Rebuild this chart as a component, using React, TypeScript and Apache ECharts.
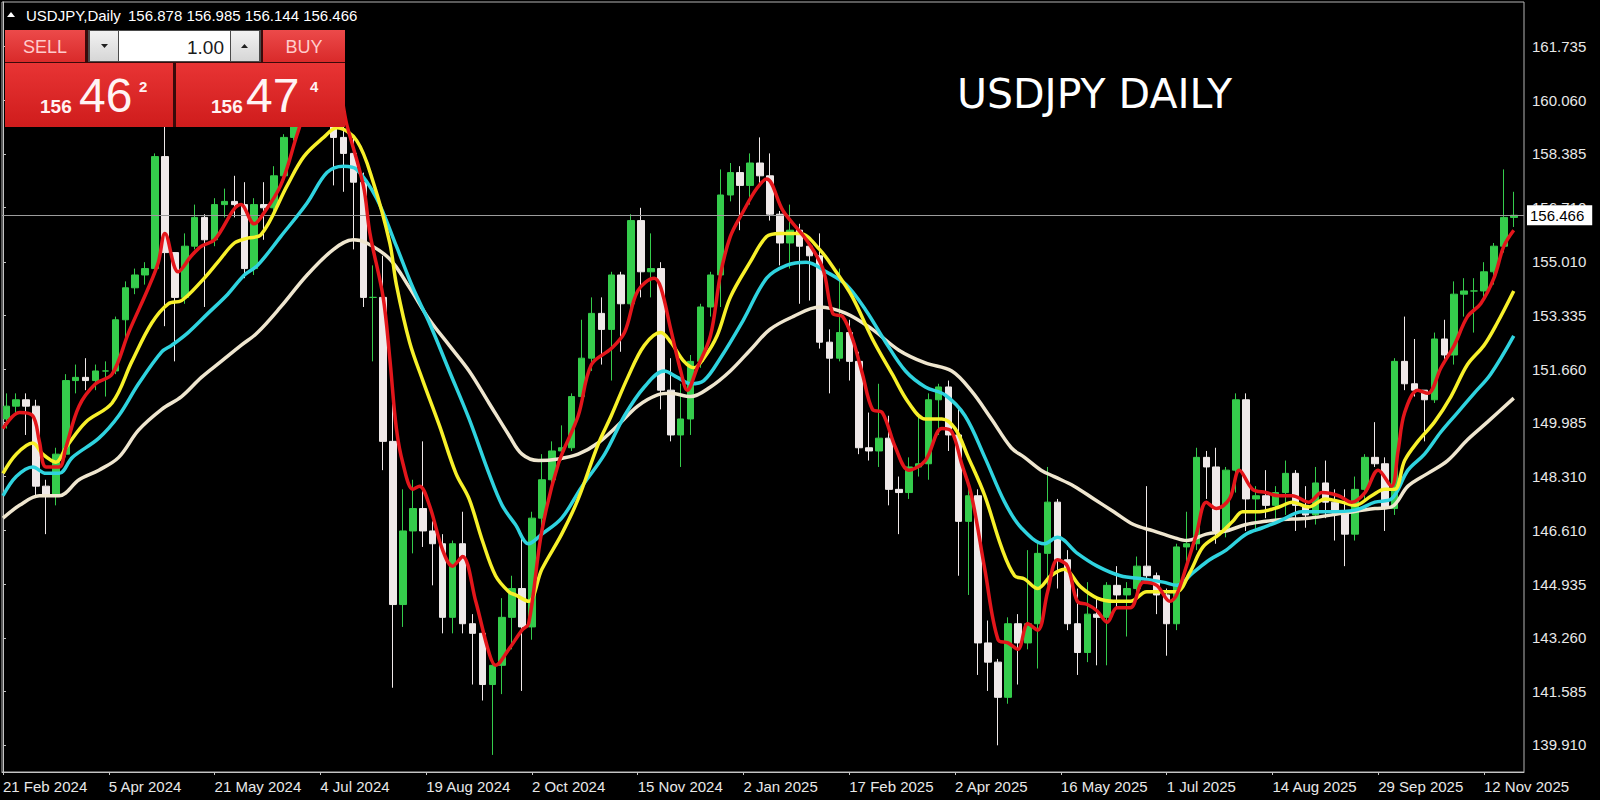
import React, { useEffect, useRef } from 'react';
import * as echarts from 'echarts';

// ---------- header / panel texts ----------
const symbolTitle = 'USDJPY,Daily';
const lastOHLC = ['156.878', '156.985', '156.144', '156.466'];
const lastPrice = 156.466;
const chartTitle = 'USDJPY DAILY';
const bidBig = ['156', '46', '2'];
const askBig = ['156', '47', '4'];
const lotSize = '1.00';

// ---------- axes ----------
// bar index (daily sessions counted from 21 Feb 2024) at which MT4 prints a date label
const xTickIndex = [0, 32, 64, 96, 128, 160, 192, 224, 256, 288, 320, 352, 384, 416, 448];
const xTickLabels = [
  '21 Feb 2024', '5 Apr 2024', '21 May 2024', '4 Jul 2024', '19 Aug 2024', '2 Oct 2024',
  '15 Nov 2024', '2 Jan 2025', '17 Feb 2025', '2 Apr 2025', '16 May 2025', '1 Jul 2025',
  '14 Aug 2025', '29 Sep 2025', '12 Nov 2025',
];
const priceTicks = [
  161.735, 160.06, 158.385, 156.71, 155.01, 153.335, 151.66, 149.985, 148.31, 146.61,
  144.935, 143.26, 141.585, 139.91,
];

// ---------- candles: one candle per 3 sessions, [open, close, low, high] ----------
const candles: number[][] = [
  [150.1, 150.5, 149.8, 150.9], [150.5, 150.7, 150.2, 150.9], [150.7, 150.5, 149.6, 150.9],
  [150.5, 148.0, 147.7, 150.7], [148.0, 147.7, 146.5, 148.2], [147.7, 149.0, 147.4, 149.2],
  [149.0, 151.3, 148.9, 151.5], [151.3, 151.4, 150.9, 151.8], [151.4, 151.3, 151.0, 152.0],
  [151.3, 151.6, 151.0, 151.8], [151.6, 151.6, 150.8, 151.9], [151.6, 153.2, 151.5, 153.3],
  [153.2, 154.2, 152.6, 154.4], [154.2, 154.6, 154.0, 154.8], [154.6, 154.8, 154.3, 155.0],
  [154.8, 158.3, 154.6, 158.4], [158.3, 155.3, 153.0, 160.2], [155.3, 153.9, 151.9, 155.0],
  [153.9, 155.5, 153.7, 155.9], [155.5, 156.4, 155.4, 156.8], [156.4, 155.7, 153.6, 156.5],
  [155.7, 156.8, 155.5, 157.0], [156.8, 156.9, 156.4, 157.3], [156.9, 156.8, 156.4, 157.7],
  [156.8, 154.8, 154.5, 157.5], [154.8, 156.8, 154.6, 157.0], [156.8, 156.7, 155.7, 157.5],
  [156.7, 157.7, 156.5, 158.0], [157.7, 158.9, 157.5, 159.0], [158.9, 159.7, 158.8, 160.0],
  [159.7, 160.9, 159.5, 161.0], [160.9, 161.7, 160.8, 161.95], [161.7, 160.8, 160.3, 161.8],
  [160.8, 158.9, 157.4, 161.8], [158.9, 158.4, 157.2, 159.4], [158.4, 157.5, 155.4, 158.9],
  [157.5, 153.9, 153.6, 157.8], [153.9, 153.9, 151.9, 154.9], [153.9, 149.4, 148.5, 155.2],
  [149.4, 144.3, 141.7, 150.9], [144.3, 146.6, 143.6, 147.9], [146.6, 147.3, 145.9, 148.2],
  [147.3, 146.6, 146.1, 149.4], [146.6, 146.2, 144.9, 146.9], [146.2, 143.9, 143.4, 146.5],
  [143.9, 146.2, 143.4, 146.3], [146.2, 143.7, 143.4, 147.2], [143.7, 143.4, 141.8, 144.0],
  [143.4, 141.8, 141.3, 143.0], [141.8, 142.4, 139.6, 142.6], [142.4, 143.9, 141.5, 144.5],
  [143.9, 144.8, 142.9, 145.2], [144.8, 143.6, 141.6, 146.5], [143.6, 147.0, 143.2, 147.2],
  [147.0, 148.2, 146.5, 149.0], [148.2, 149.1, 147.8, 149.4], [149.1, 149.2, 148.8, 149.9],
  [149.2, 150.8, 149.1, 150.9], [150.8, 152.0, 150.5, 153.2], [152.0, 153.4, 151.6, 153.9],
  [153.4, 152.9, 151.8, 153.9], [152.9, 154.6, 151.3, 154.7], [154.6, 153.7, 152.2, 154.7],
  [153.7, 156.3, 153.4, 156.5], [156.3, 154.7, 153.9, 156.7], [154.7, 154.8, 153.9, 155.9],
  [154.8, 151.0, 150.4, 155.0], [151.0, 149.6, 149.4, 152.0], [149.6, 150.1, 148.6, 151.2],
  [150.1, 151.9, 149.6, 152.1], [151.9, 153.6, 151.7, 153.7], [153.6, 154.6, 153.3, 154.7],
  [154.6, 157.1, 153.6, 157.9], [157.1, 157.8, 156.9, 158.1], [157.8, 157.4, 156.0, 158.0],
  [157.4, 158.1, 156.8, 158.4], [158.1, 157.7, 157.4, 158.9], [157.7, 156.5, 156.3, 158.4],
  [156.5, 155.6, 154.9, 156.6], [155.6, 156.0, 154.8, 156.8], [156.0, 155.5, 153.7, 156.2],
  [155.5, 155.2, 153.8, 155.6], [155.2, 152.5, 152.3, 155.9], [152.5, 152.0, 150.9, 152.9],
  [152.0, 152.8, 151.9, 154.8], [152.8, 151.9, 151.3, 153.2], [151.9, 149.2, 149.0, 152.2],
  [149.2, 149.1, 148.8, 150.3], [149.1, 149.5, 148.6, 151.2], [149.5, 147.9, 147.4, 150.2],
  [147.9, 147.8, 146.5, 148.3], [147.8, 148.6, 147.6, 148.9], [148.6, 148.7, 148.3, 150.2],
  [148.7, 150.7, 148.2, 150.9], [150.7, 151.1, 149.6, 151.2], [151.1, 149.6, 149.1, 151.3],
  [149.6, 146.9, 145.2, 150.5], [146.9, 147.7, 144.6, 148.2], [147.7, 143.1, 142.1, 147.9],
  [143.1, 142.5, 141.6, 143.8], [142.5, 141.4, 139.9, 142.6], [141.4, 143.7, 141.2, 143.9],
  [143.7, 143.1, 141.8, 144.0], [143.1, 143.7, 142.9, 146.0], [143.7, 145.9, 142.3, 146.2],
  [145.9, 147.5, 144.9, 148.6], [147.5, 145.7, 144.8, 147.6], [145.7, 143.7, 143.5, 146.0],
  [143.7, 142.8, 142.1, 144.8], [142.8, 144.0, 142.5, 145.0], [144.0, 143.9, 142.4, 144.5],
  [143.9, 144.9, 142.4, 145.0], [144.9, 144.6, 144.2, 145.5], [144.6, 144.8, 143.3, 145.0],
  [144.8, 145.5, 144.5, 145.8], [145.5, 145.2, 145.0, 148.0], [145.2, 144.6, 144.0, 145.3],
  [144.6, 143.7, 142.7, 144.8], [143.7, 146.1, 143.5, 146.2], [146.1, 146.2, 145.6, 147.2],
  [146.2, 148.9, 146.0, 149.2], [148.9, 148.6, 147.6, 149.1], [148.6, 146.6, 146.2, 149.2],
  [146.6, 148.5, 146.4, 148.6], [148.5, 150.7, 147.8, 150.9], [150.7, 147.6, 146.6, 150.9],
  [147.6, 147.7, 146.6, 148.0], [147.7, 147.4, 147.0, 148.5], [147.4, 147.8, 146.9, 148.0],
  [147.8, 148.4, 147.1, 148.8], [148.4, 147.4, 146.6, 148.5], [147.4, 147.1, 146.7, 148.0],
  [147.1, 148.1, 146.8, 148.6], [148.1, 147.5, 147.0, 148.8], [147.5, 147.2, 146.3, 147.9],
  [147.2, 146.5, 145.5, 147.9], [146.5, 147.9, 146.3, 148.3], [147.9, 148.9, 147.5, 149.0],
  [148.9, 148.7, 148.6, 150.0], [148.7, 147.3, 146.6, 148.9], [147.3, 151.9, 147.1, 152.0],
  [151.9, 151.2, 151.0, 153.3], [151.2, 151.0, 150.8, 152.6], [151.0, 150.7, 149.4, 151.0],
  [150.7, 152.6, 150.6, 152.8], [152.6, 152.1, 151.9, 153.2], [152.1, 154.0, 151.8, 154.4],
  [154.0, 154.1, 153.3, 154.5], [154.1, 154.1, 152.8, 154.5], [154.1, 154.7, 153.9, 155.0],
  [154.7, 155.5, 154.3, 155.6], [155.5, 156.4, 155.3, 157.9], [156.4, 156.466, 156.1, 157.2],
];

// ---------- moving averages: [session index, price] ----------
const maRed: number[][] = [
  [0, 149.8], [5, 150.3], [9, 150.2], [11, 149.4], [13, 148.6], [17, 148.6], [19, 149.2], [23, 150.5],
  [28, 151.2], [33, 151.5], [38, 152.8], [44, 154.2], [47, 155.0], [49, 155.9], [53, 154.7], [57, 155.2],
  [60, 155.5], [64, 155.7], [72, 156.8], [76, 156.2], [78, 156.4], [84, 157.4], [89, 159.0], [93, 160.2],
  [97, 160.9], [100, 161.0], [104, 159.3], [109, 157.4], [111, 155.9], [115, 153.9], [117, 152.0],
  [119, 149.8], [121, 148.7], [124, 147.9], [126, 148.0], [129, 147.4], [133, 146.0], [136, 145.5],
  [139, 145.8], [143, 144.4], [147, 142.8], [149, 142.4], [153, 142.9], [157, 143.5], [159, 143.7],
  [163, 146.6], [168, 148.7], [174, 150.2], [178, 151.8], [184, 152.3], [188, 152.8], [192, 154.1],
  [197, 154.5], [199, 154.2], [202, 152.9], [205, 151.6], [207, 151.0], [210, 151.7], [214, 152.7],
  [217, 154.6], [220, 155.8], [224, 156.6], [228, 157.3], [231, 157.6], [236, 156.6], [243, 155.7],
  [248, 154.8], [251, 153.4], [254, 153.3], [257, 152.6], [260, 151.5], [263, 150.4], [266, 150.3],
  [270, 149.2], [274, 148.5], [279, 148.8], [284, 149.8], [287, 149.7], [290, 148.7], [293, 147.7],
  [297, 145.4], [301, 143.2], [304, 143.1], [307, 142.9], [310, 143.7], [313, 143.5], [316, 144.7],
  [319, 145.7], [322, 145.5], [325, 144.4], [328, 144.3], [331, 144.1], [334, 143.75], [337, 144.2],
  [341, 144.2], [345, 145.0], [349, 144.9], [353, 144.4], [355, 144.6], [358, 145.5], [361, 146.5],
  [364, 147.5], [367, 147.3], [371, 147.6], [374, 148.5], [378, 147.9], [382, 147.8], [386, 147.7],
  [390, 147.7], [395, 147.5], [399, 147.8], [404, 147.7], [408, 147.5], [412, 147.8], [416, 148.5],
  [420, 148.0], [422, 149.1], [424, 150.3], [428, 151.0], [431, 150.9], [435, 151.7], [439, 152.4],
  [443, 153.3], [447, 153.7], [451, 154.5], [454, 155.5], [457, 156.0],
];
const maYellow: number[][] = [
  [0, 148.4], [4, 149.0], [9, 149.35], [12, 149.0], [16, 148.75], [19, 149.2], [25, 150.0], [33, 150.6],
  [39, 151.9], [45, 153.1], [50, 153.7], [54, 153.8], [60, 154.4], [65, 155.0], [70, 155.6], [74, 155.75],
  [78, 155.85], [86, 157.4], [91, 158.3], [97, 158.9], [101, 159.2], [107, 158.8], [112, 157.5],
  [117, 155.6], [119, 154.3], [123, 152.5], [127, 151.3], [132, 149.9], [137, 148.4], [141, 147.6],
  [145, 146.3], [149, 145.2], [153, 144.7], [155, 144.6], [159, 144.4], [163, 145.4], [169, 146.5],
  [174, 147.6], [180, 149.3], [184, 150.2], [189, 151.4], [194, 152.4], [199, 152.8], [202, 152.5],
  [206, 151.9], [209, 151.7], [212, 152.0], [216, 152.7], [220, 153.9], [226, 155.0], [231, 155.8],
  [235, 155.9], [241, 155.9], [247, 155.4], [252, 154.7], [257, 153.9], [263, 152.6], [269, 151.5],
  [274, 150.6], [279, 150.1], [284, 150.1], [288, 149.8], [292, 148.9], [297, 147.7], [302, 146.1],
  [306, 145.2], [309, 145.1], [313, 144.8], [317, 145.2], [321, 145.4], [326, 144.85], [331, 144.5],
  [336, 144.4], [341, 144.4], [346, 144.7], [351, 144.7], [355, 144.7], [359, 145.3], [363, 146.1],
  [368, 146.5], [372, 146.9], [375, 147.2], [380, 147.2], [386, 147.35], [390, 147.5], [395, 147.35],
  [400, 147.6], [405, 147.5], [409, 147.4], [414, 147.7], [418, 147.9], [421, 147.9], [424, 148.8],
  [428, 149.4], [433, 150.0], [438, 150.8], [443, 151.8], [448, 152.4], [452, 153.1], [457, 154.1],
];
const maCyan: number[][] = [
  [0, 147.7], [4, 148.3], [9, 148.6], [13, 148.4], [17, 148.4], [21, 148.9], [29, 149.5], [35, 150.2],
  [41, 151.2], [48, 152.2], [51, 152.4], [56, 152.8], [62, 153.4], [68, 154.0], [73, 154.6], [77, 154.9],
  [84, 155.8], [92, 156.85], [98, 157.8], [103, 158.0], [107, 157.9], [113, 157.0], [119, 155.5],
  [124, 154.2], [129, 153.1], [135, 151.6], [141, 150.1], [147, 148.4], [151, 147.4], [155, 146.8],
  [159, 146.2], [163, 146.5], [169, 147.0], [175, 147.97], [182, 149.0], [188, 150.2], [194, 151.1],
  [200, 151.6], [204, 151.4], [208, 151.2], [212, 151.3], [217, 152.0], [224, 153.2], [231, 154.5],
  [237, 154.9], [243, 155.0], [249, 154.7], [255, 154.3], [261, 153.5], [267, 152.5], [273, 151.6],
  [279, 151.1], [285, 150.85], [291, 150.2], [297, 148.9], [303, 147.5], [308, 146.7], [315, 146.2],
  [319, 146.4], [325, 145.9], [331, 145.5], [338, 145.2], [345, 145.1], [351, 145.0], [355, 144.9],
  [360, 145.3], [365, 145.7], [370, 146.0], [376, 146.5], [381, 146.7], [386, 146.9], [393, 147.2],
  [401, 147.2], [409, 147.25], [415, 147.5], [420, 147.6], [425, 148.5], [430, 149.0], [435, 149.7],
  [440, 150.3], [445, 150.9], [450, 151.5], [457, 152.7],
];
const maBeige: number[][] = [
  [0, 147.0], [5, 147.4], [11, 147.7], [17, 147.7], [23, 148.2], [29, 148.5], [35, 148.9], [41, 149.75],
  [48, 150.4], [54, 150.8], [60, 151.4], [66, 151.9], [72, 152.4], [77, 152.8], [84, 153.6], [92, 154.6],
  [100, 155.4], [106, 155.7], [110, 155.6], [117, 155.1], [123, 154.2], [129, 153.2], [135, 152.4],
  [141, 151.6], [147, 150.6], [153, 149.6], [157, 149.0], [162, 148.8], [168, 148.85], [174, 149.0],
  [180, 149.35], [186, 149.9], [192, 150.5], [198, 150.85], [202, 150.9], [208, 150.8], [214, 151.1],
  [220, 151.6], [226, 152.25], [232, 152.9], [239, 153.3], [247, 153.6], [255, 153.4], [263, 152.9],
  [271, 152.25], [279, 151.85], [287, 151.6], [293, 150.97], [299, 150.1], [305, 149.2], [309, 148.9],
  [314, 148.5], [318, 148.3], [324, 148.0], [330, 147.6], [336, 147.2], [342, 146.8], [348, 146.6],
  [354, 146.4], [358, 146.3], [364, 146.5], [370, 146.6], [376, 146.8], [382, 146.9], [386, 146.95],
  [395, 147.0], [405, 147.15], [415, 147.3], [420, 147.35], [425, 148.0], [431, 148.4], [437, 148.8],
  [443, 149.45], [449, 150.0], [457, 150.75],
];

const FONT = "Tahoma, 'Liberation Sans', Arial, sans-serif";

export default function App() {
  const ref = useRef<HTMLDivElement>(null);

  useEffect(() => {
    if (!ref.current) return;
    const chart = echarts.init(ref.current, undefined, { renderer: 'svg' });

    const candleData = candles.map((c, k) => [k * 3 + 1, c[0], c[1], c[2], c[3]]);

    const topBtn = new echarts.graphic.LinearGradient(0, 0, 0, 1, [
      { offset: 0, color: '#ec4a4a' },
      { offset: 1, color: '#d92a2a' },
    ]);
    const bigBox = () =>
      new echarts.graphic.LinearGradient(0, 0, 0, 1, [
        { offset: 0, color: '#e83434' },
        { offset: 1, color: '#cf1c1c' },
      ]);
    const greyBtn = new echarts.graphic.LinearGradient(0, 0, 0, 1, [
      { offset: 0, color: '#f2f2f2' },
      { offset: 1, color: '#d6d6d6' },
    ]);

    const txt = (text: string, x: number, y: number, size: number, fill: string, align = 'left', weight = 'normal', family = FONT) => ({
      type: 'text',
      z: 110,
      style: {
        text, x, y, fill,
        font: `${weight} ${size}px ${family}`,
        textAlign: align,
        textVerticalAlign: 'middle',
      },
    });

    const mkLine = (name: string, data: number[][], color: string) => ({
      name,
      type: 'line',
      data,
      smooth: 0.35,
      showSymbol: false,
      symbol: 'none',
      silent: true,
      lineStyle: { color, width: 3.5 },
      z: 5,
    });

    chart.setOption({
      animation: false,
      backgroundColor: '#000000',
      grid: { left: 2, right: 76, top: 2, bottom: 28, show: true, borderColor: '#b4b4b4', borderWidth: 1, outerBoundsMode: 'none' },
      xAxis: {
        type: 'value',
        min: -0.3,
        max: 460.1,
        splitLine: { show: false },
        axisLine: { show: true, lineStyle: { color: '#c4c4c4', width: 1 } },
        axisTick: { show: true, length: 3, customValues: xTickIndex, lineStyle: { color: '#c4c4c4' } },
        axisLabel: {
          customValues: xTickIndex,
          formatter: (v: number) => {
            const i = xTickIndex.indexOf(Math.round(v));
            return i >= 0 ? xTickLabels[i] : '';
          },
          color: '#e8e8e8',
          fontSize: 15,
          fontFamily: FONT,
          align: 'left',
          margin: 7,
        },
      },
      yAxis: {
        type: 'value',
        position: 'right',
        min: 139.066,
        max: 163.132,
        scale: true,
        splitLine: { show: false },
        axisLine: { show: true, lineStyle: { color: '#c4c4c4', width: 1 } },
        axisTick: { show: true, length: 3, customValues: priceTicks, lineStyle: { color: '#c4c4c4' } },
        axisLabel: {
          customValues: priceTicks,
          formatter: (v: number) => v.toFixed(3),
          color: '#e8e8e8',
          fontSize: 15,
          fontFamily: FONT,
          margin: 8,
        },
      },
      series: [
        {
          name: 'USDJPY',
          type: 'candlestick',
          data: candleData,
          barWidth: 7,
          silent: true,
          z: 3,
          itemStyle: {
            color: '#35cc4c',
            color0: '#efe9e9',
            borderColor: '#35cc4c',
            borderColor0: '#efe9e9',
            borderWidth: 1,
          },
          markLine: {
            silent: true,
            symbol: ['none', 'none'],
            lineStyle: { color: '#9c9c9c', width: 1, type: 'solid' },
            label: {
              show: true,
              position: 'end',
              distance: 3,
              formatter: lastPrice.toFixed(3),
              backgroundColor: '#ffffff',
              color: '#000000',
              fontSize: 15,
              fontFamily: FONT,
              padding: [3, 8, 2, 3],
            },
            data: [{ yAxis: lastPrice }],
          },
        },
        mkLine('MA slow', maBeige, '#efe6cf'),
        mkLine('MA mid', maCyan, '#2fd3df'),
        mkLine('MA 20', maYellow, '#f7f02a'),
        mkLine('MA fast', maRed, '#e3161b'),
      ],
      graphic: [
        // header line
        { type: 'polygon', z: 110, shape: { points: [[7, 17], [11, 12], [15, 17]] }, style: { fill: '#ffffff' } },
        txt(symbolTitle, 26, 15, 15, '#ffffff'),
        txt(lastOHLC.join(' '), 128, 15, 15, '#ffffff'),
        // title
        txt(chartTitle, 957, 94, 41, '#ffffff', 'left', 'normal', "'Comic Sans MS', 'DejaVu Sans', sans-serif"),
        // one-click trading panel
        { type: 'rect', z: 100, shape: { x: 5, y: 30, width: 340, height: 97 }, style: { fill: '#3a0a0a' } },
        { type: 'rect', z: 101, shape: { x: 5, y: 30, width: 80, height: 32 }, style: { fill: topBtn } },
        { type: 'rect', z: 101, shape: { x: 263, y: 30, width: 82, height: 32 }, style: { fill: topBtn } },
        { type: 'rect', z: 101, shape: { x: 88, y: 30, width: 173, height: 32 }, style: { fill: '#4a4a4a' } },
        { type: 'rect', z: 102, shape: { x: 90, y: 31, width: 28, height: 30 }, style: { fill: greyBtn } },
        { type: 'rect', z: 102, shape: { x: 119, y: 31, width: 111, height: 30 }, style: { fill: '#ffffff' } },
        { type: 'rect', z: 102, shape: { x: 231, y: 31, width: 28, height: 30 }, style: { fill: greyBtn } },
        { type: 'polygon', z: 110, shape: { points: [[101, 44], [108, 44], [104.5, 48]] }, style: { fill: '#202020' } },
        { type: 'polygon', z: 110, shape: { points: [[241, 48], [248, 48], [244.5, 44]] }, style: { fill: '#202020' } },
        txt(lotSize, 224, 47, 19, '#1a1a1a', 'right'),
        txt('SELL', 45, 47, 18, '#ffcccc', 'center'),
        txt('BUY', 304, 47, 18, '#ffcccc', 'center'),
        { type: 'rect', z: 101, shape: { x: 5, y: 63, width: 168, height: 64 }, style: { fill: bigBox() } },
        { type: 'rect', z: 101, shape: { x: 176, y: 63, width: 169, height: 64 }, style: { fill: bigBox() } },
        txt(bidBig[0], 40, 106, 19, '#fff2f2', 'left', 'bold'),
        txt(bidBig[1], 79, 95, 48, '#fff4f4'),
        txt(bidBig[2], 139, 86, 15, '#fff2f2', 'left', 'bold'),
        txt(askBig[0], 211, 106, 19, '#fff2f2', 'left', 'bold'),
        txt(askBig[1], 246, 95, 48, '#fff4f4'),
        txt(askBig[2], 310, 86, 15, '#fff2f2', 'left', 'bold'),
      ],
    });

    return () => chart.dispose();
  }, []);

  return (
    <div
      ref={ref}
      style={{ position: 'fixed', left: 0, top: 0, width: 1600, height: 800, background: '#000' }}
    />
  );
}
